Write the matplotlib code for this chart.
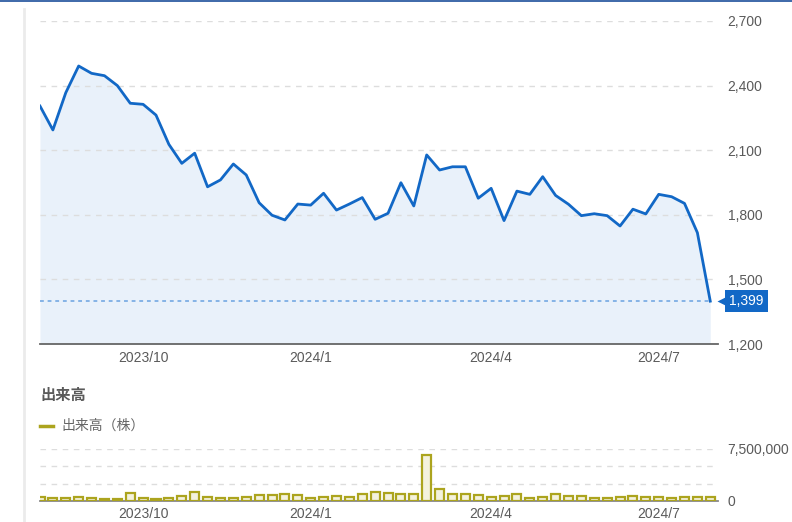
import numpy as np
import matplotlib
matplotlib.use('Agg')
import matplotlib.pyplot as plt
from matplotlib.lines import Line2D
from matplotlib.ticker import FuncFormatter
from matplotlib.transforms import blended_transform_factory

plt.rcParams['font.family'] = ['Liberation Sans', 'Noto Sans CJK JP', 'DejaVu Sans']

# weekly close price (yen)
price = [2305, 2194, 2367, 2491, 2457, 2446, 2400, 2318, 2313, 2263,
         2127, 2039, 2086, 1930, 1962, 2036, 1985, 1856, 1798, 1776,
         1850, 1845, 1900, 1822, 1850, 1880, 1779, 1807, 1949, 1841,
         2078, 2008, 2023, 2023, 1877, 1923, 1773, 1910, 1895, 1977,
         1890, 1849, 1796, 1805, 1796, 1748, 1826, 1804, 1895, 1884,
         1853, 1717, 1399]
# weekly volume (shares)
volume = [540e3, 440e3, 440e3, 590e3, 440e3, 300e3, 340e3, 1130e3, 490e3, 340e3,
          440e3, 780e3, 1280e3, 630e3, 440e3, 440e3, 630e3, 880e3, 840e3, 1030e3,
          840e3, 440e3, 630e3, 780e3, 630e3, 1030e3, 1370e3, 1220e3, 980e3, 980e3,
          6620e3, 1720e3, 980e3, 1030e3, 810e3, 540e3, 735e3, 1000e3, 410e3, 630e3,
          1030e3, 735e3, 735e3, 490e3, 490e3, 630e3, 780e3, 630e3, 630e3, 400e3,
          630e3, 630e3, 540e3]
tick_pos = [8, 21, 35, 48]
tick_labels = ['2023/10', '2024/1', '2024/4', '2024/7']

blue = '#1268c6'
grey_txt = '#5a5a5a'
x = np.arange(len(price))

fig = plt.figure(figsize=(7.92, 5.22), dpi=100)
W, H = 792, 522
ax = fig.add_axes([40 / W, 1 - 344 / H, 678 / W, 323 / H])
ax2 = fig.add_axes([40 / W, 1 - 501 / H, 678 / W, 52 / H])

# price chart
ax.fill_between(x, price, 1200, color='#e9f1fa', lw=0, zorder=1)
ax.plot(x, price, color=blue, lw=2, zorder=3, solid_joinstyle='round')
ax.plot([x[0], x[-1]], [price[-1], price[-1]], color='#6aa2e0', lw=1.1,
        ls=(0, (2.5, 2.5)), zorder=2)
ax.set_xlim(0, 52.6)
ax.set_ylim(1200, 2700)
ax.set_yticks(np.arange(1200, 2701, 300))
ax.yaxis.tick_right()
ax.yaxis.set_major_formatter(FuncFormatter(lambda v, p: f'{int(v):,}'))
ax.grid(axis='y', color='#dddddd', ls=(0, (4, 4)), lw=1, zorder=0)
ax.set_xticks(tick_pos)
ax.set_xticklabels(tick_labels)
for s in ['top', 'left', 'right']:
    ax.spines[s].set_visible(False)
ax.spines['bottom'].set_color('#666666')
ax.spines['bottom'].set_linewidth(1.3)
ax.tick_params(length=0, labelsize=10, colors=grey_txt, pad=7)
ax.tick_params(axis='x', pad=5)

trans = blended_transform_factory(ax.transAxes, ax.transData)
ax.plot([1.007], [price[-1]], marker='<', ms=9, color=blue, mec='none',
        transform=trans, clip_on=False)
ax.annotate(f'{price[-1]:,}', xy=(1, price[-1]), xycoords=trans,
            xytext=(8, 0), textcoords='offset points', va='center', ha='left',
            color='white', fontsize=10,
            bbox=dict(boxstyle='square,pad=0.3', fc=blue, ec='none'))

# volume chart
ax2.bar(x, volume, width=0.7, color='#f4f2dd', edgecolor='#aca41e', lw=1.6, zorder=3)
ax2.set_xlim(0, 52.6)
ax2.set_ylim(0, 7.5e6)
ax2.set_yticks([0, 2.5e6, 5e6, 7.5e6])
ax2.set_yticklabels(['0', '', '', '7,500,000'])
ax2.yaxis.tick_right()
ax2.grid(axis='y', color='#dddddd', ls=(0, (4, 4)), lw=1, zorder=0)
ax2.set_xticks(tick_pos)
ax2.set_xticklabels(tick_labels)
for s in ['top', 'left', 'right']:
    ax2.spines[s].set_visible(False)
ax2.spines['bottom'].set_color('#888888')
ax2.spines['bottom'].set_linewidth(1.3)
ax2.tick_params(length=0, labelsize=10, colors=grey_txt, pad=7)
ax2.tick_params(axis='x', pad=4)

fig.text(40 / W, 1 - 396 / H, '出来高', fontsize=11, fontweight='bold',
         color=grey_txt, va='center', ha='left')
fig.add_artist(Line2D([40 / W, 53 / W], [1 - 426 / H] * 2, color='#aca41e', lw=2.5))
fig.text(61 / W, 1 - 426 / H, '出来高（株）', fontsize=10, color='#666666',
         va='center', ha='left')

# frame decorations
fig.add_artist(Line2D([0, 1], [1 - 0.7 / H] * 2, color='#1d4f9b', lw=1.2))
fig.add_artist(Line2D([24 / W] * 2, [0, 1 - 9 / H], color='#ebebeb', lw=2))

fig.savefig('out.png', dpi=100)
